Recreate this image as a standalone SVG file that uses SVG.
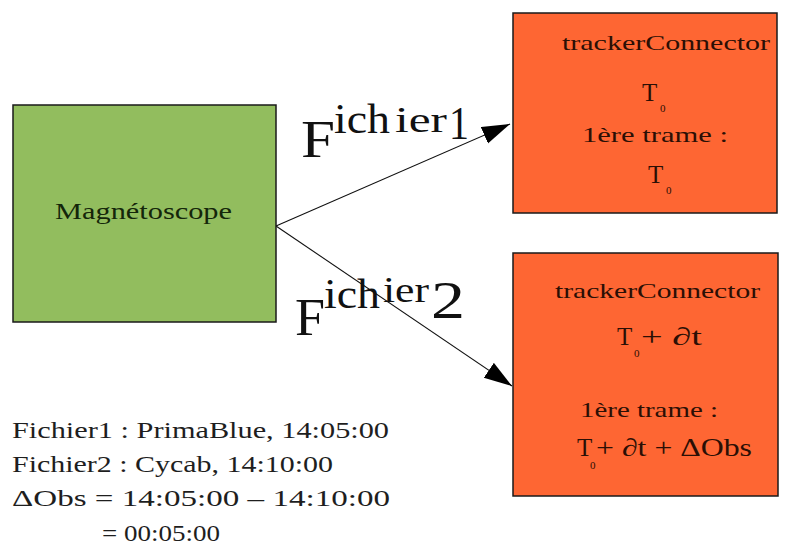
<svg xmlns="http://www.w3.org/2000/svg" width="800" height="550" viewBox="0 0 800 550">
<defs>
<style>
text{font-family:"Liberation Serif","Times New Roman",serif;}
.box{stroke:#1a1a1a;stroke-width:1.5;}
.green{fill:#92bd5e;}
.orange{fill:#fe6633;}
.ntxt{fill:#2b0f05;font-size:22px;}
.ttxt{fill:#2b0f05;font-size:25px;}
.mtxt{fill:#14260a;font-size:24px;}
.big{fill:#111;}
.note{fill:#1e1e1e;font-size:24px;}
.sub{font-size:11px;}
.conn{stroke:#111;stroke-width:1.1;fill:none;}
</style>
<marker id="arr" markerUnits="userSpaceOnUse" markerWidth="30" markerHeight="20" refX="28" refY="9" orient="auto">
<path d="M0,0 L28,9 L0,18 Z" fill="#000"/>
</marker>
</defs>
<rect width="800" height="550" fill="#fff"/>

<g id="connectors">
<line class="conn" x1="276" y1="226" x2="510" y2="124" marker-end="url(#arr)"/>
<line class="conn" x1="276" y1="226" x2="512" y2="386" marker-end="url(#arr)"/>
<text id="label1" class="big"><tspan x="301" y="157" font-size="53" textLength="34" lengthAdjust="spacingAndGlyphs">F</tspan><tspan x="334" y="133" font-size="42" textLength="56" lengthAdjust="spacingAndGlyphs">ich</tspan><tspan x="395" y="132" font-size="36" textLength="52" lengthAdjust="spacingAndGlyphs">ier</tspan><tspan x="449" y="139" font-size="47" textLength="20" lengthAdjust="spacingAndGlyphs">1</tspan></text>
<text id="label2" class="big"><tspan x="295" y="335" font-size="53" textLength="30" lengthAdjust="spacingAndGlyphs">F</tspan><tspan x="324" y="308" font-size="42" textLength="56" lengthAdjust="spacingAndGlyphs">ich</tspan><tspan x="383" y="302" font-size="36" textLength="46" lengthAdjust="spacingAndGlyphs">ier</tspan><tspan x="431" y="318" font-size="53" textLength="34" lengthAdjust="spacingAndGlyphs">2</tspan></text>
</g>

<g id="magnetoscope">
<rect class="box green" x="13" y="105" width="263" height="217"/>
<text class="mtxt" x="55" y="219" textLength="177" lengthAdjust="spacingAndGlyphs">Magnétoscope</text>
</g>

<g id="tracker1">
<rect class="box orange" x="513" y="13" width="264" height="200"/>
<text class="ntxt" x="562" y="50" textLength="208" lengthAdjust="spacingAndGlyphs">trackerConnector</text>
<text class="ttxt" x="642" y="101">T<tspan class="sub" x="660" y="112">0</tspan></text>
<text class="ntxt" x="582" y="142" textLength="146" lengthAdjust="spacingAndGlyphs">1ère trame :</text>
<text class="ttxt" x="648" y="183">T<tspan class="sub" x="666" y="194">0</tspan></text>
</g>

<g id="tracker2">
<rect class="box orange" x="513" y="253" width="265" height="243"/>
<text class="ntxt" x="555" y="298" textLength="205" lengthAdjust="spacingAndGlyphs">trackerConnector</text>
<text class="ttxt"><tspan x="617" y="345">T</tspan><tspan class="sub" x="634" y="357">0</tspan><tspan x="641" y="345" textLength="61" lengthAdjust="spacingAndGlyphs">+ ∂t</tspan></text>
<text class="ntxt" x="580" y="417" textLength="138" lengthAdjust="spacingAndGlyphs">1ère trame :</text>
<text class="ttxt"><tspan x="577" y="456">T</tspan><tspan class="sub" x="590" y="469">0</tspan><tspan x="596" y="456" textLength="156" lengthAdjust="spacingAndGlyphs">+ ∂t + ΔObs</tspan></text>
</g>

<g id="notes">
<text class="note" x="12" y="438" textLength="377" lengthAdjust="spacingAndGlyphs">Fichier1 : PrimaBlue, 14:05:00</text>
<text class="note" x="12" y="472" textLength="321" lengthAdjust="spacingAndGlyphs">Fichier2 : Cycab, 14:10:00</text>
<text class="note" x="12" y="506" textLength="378" lengthAdjust="spacingAndGlyphs">ΔObs = 14:05:00 – 14:10:00</text>
<text class="note" x="102" y="541" textLength="118" lengthAdjust="spacingAndGlyphs">= 00:05:00</text>
</g>
</svg>
